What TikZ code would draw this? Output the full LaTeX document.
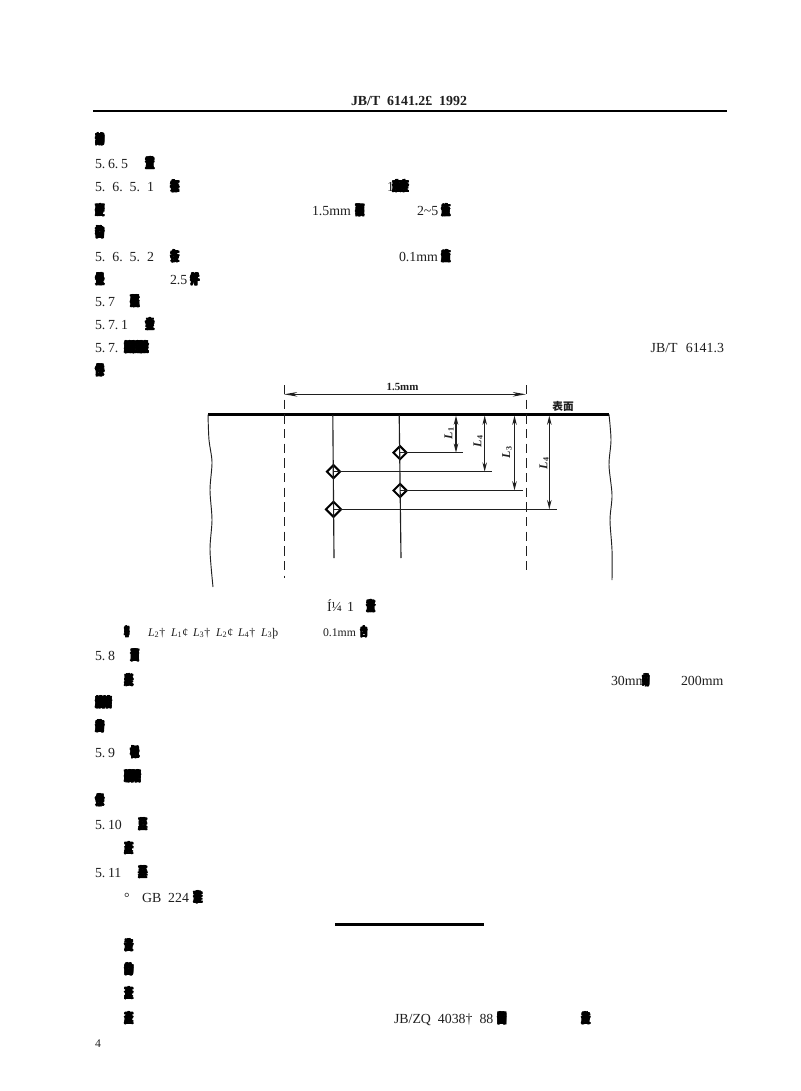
\documentclass[tikz,border=0pt]{standalone}
\usepackage{fontspec}
\usepackage{graphicx}
\setmainfont{Liberation Serif}
\newfontfamily\cjk{Noto Sans CJK SC}
\usetikzlibrary{shapes.geometric,arrows.meta}
\definecolor{ink}{gray}{0.12}
\newcommand{\ovr}[3]{{\cjk\bfseries\fontsize{8}{8}\selectfont\scalebox{.9}[1.32]{\rlap{#1}\rlap{\kern.5pt #2}\rlap{\kern-.4pt #3}\rlap{\kern.3pt #1}\rlap{\kern-.3pt #2}#3}}}
\newcommand{\dovr}[3]{\ovr{#1}{#2}{#3}\kern-1.5pt\ovr{#3}{#1}{#2}}
\newcommand{\tovr}[3]{\ovr{#1}{#2}{#3}\kern-1.5pt\ovr{#3}{#1}{#2}\kern-1.5pt\ovr{#2}{#3}{#1}}
\newcommand{\LL}[1]{\textit{L}\textsubscript{#1}}
\tikzset{
  txt/.style={anchor=base west,inner sep=0pt,outer sep=0pt,yshift=-.75pt,text=ink,font=\fontsize{10.4}{12}\selectfont},
  rtxt/.style={txt,anchor=base east},
  blob/.style={anchor=base west,inner sep=0pt,outer sep=0pt,yshift=-.75pt,text=black},
  small/.style={txt,font=\fontsize{8.8}{10}\selectfont},
  rule/.style={line width=1.6pt,black},
  thin/.style={line width=.85pt,ink},
  dashline/.style={line width=.8pt,ink,dash pattern=on 7pt off 4pt},
  dim/.style={line width=.85pt,ink,{Stealth[length=7pt,width=3.4pt]}-{Stealth[length=7pt,width=3.4pt]}},
  mark diamond/.style={diamond,draw=black,line width=1.5pt,minimum width=10.5pt,minimum height=10.5pt,inner sep=0pt},
  dimlab/.style={rotate=90,inner sep=0pt,text=ink,font=\fontsize{9}{10}\bfseries\selectfont},
}
\begin{document}
\begin{tikzpicture}[x=0.75pt,y=-0.75pt]
\useasboundingbox (0,0) rectangle (800,1091);
\fill[white] (0,0) rectangle (800,1091);
% header
\node[txt,anchor=base,font=\fontsize{10.4}{12}\bfseries\selectfont] (hdr) at (409,105) {JB/T\ \ 6141.2£\ \ 1992};
\coordinate (hl) at (93,110.7); \coordinate (hr) at (727,110.7);
\draw[rule] (hl) -- (hr);
% numbered and plain text
\node[txt] (a1) at (95,168) {5.\kern2pt 6.\kern2pt 5};
\node[txt] (a2) at (95,191) {5.\ \ 6.\ \ 5.\ \ 1};
\node[txt] (a3) at (387,191) {1};
\node[txt] (a4) at (312,214) {1.5mm};
\node[txt] (a5) at (417,214) {2\textasciitilde 5};
\node[txt] (a6) at (95,260) {5.\ \ 6.\ \ 5.\ \ 2};
\node[txt] (a7) at (399,260) {0.1mm};
\node[txt] (a8) at (170,283) {2.5};
\node[txt] (a9) at (95,305) {5.\kern2pt 7};
\node[txt] (a10) at (95,328) {5.\kern2pt 7.\kern2pt 1};
\node[txt] (a11) at (95,351) {5.\kern2pt 7.};
\node[rtxt] (a12) at (724,351) {JB/T\ \ \kern1pt 6141.3};
\node[txt] (a13) at (327,610) {Í¼};
\node[txt] (a14) at (347,610) {1};
\foreach \n/\x/\s/\m in {l1/148/2/†,l2/171/1/¢,l3/193/3/†,l4/216/2/¢,l5/238/4/†}
  \node[small] (\n) at (\x,635) {\LL{\s}\m};
\node[small] (l6) at (261,635) {\LL{3}þ};
\node[small] (l7) at (323,635) {0.1mm};
\node[txt] (a15) at (95,659) {5.\kern2pt 8};
\node[txt] (a16) at (611,684) {30mm};
\node[txt] (a17) at (681,684) {200mm};
\node[txt] (a18) at (95,756) {5.\kern2pt 9};
\node[txt] (a19) at (95,828) {5.\kern2pt 10};
\node[txt] (a20) at (95,876) {5.\kern2pt 11};
\node[txt] (a21) at (124,901) {°};
\node[txt] (a22) at (142,901) {GB\ \ 224};
\node[txt] (a23) at (394,1022) {JB/ZQ\ \ 4038†\ \ 88};
\node[small] (pg) at (95,1046) {4};
% overprinted glyph clusters
\foreach \i/\x/\y/\t in {
 1/95/144/{\ovr{的}{动}{部}},
 2/145/168/{\ovr{童}{查}{重}},
 3/170/191/{\ovr{在}{每}{条}},
 4/392/191/{\dovr{条}{应}{查}},
 5/95/214/{\ovr{查}{硬}{度}},
 6/355/214/{\ovr{取}{面}{平}},
 7/441/214/{\ovr{查}{点}{值}},
 8/95/237/{\ovr{的}{备}{检}},
 9/170/260/{\ovr{在}{条}{各}},
 10/441/260/{\ovr{查}{值}{度}},
 11/95/283/{\ovr{条}{处}{保}},
 12/190/283/{\ovr{平}{并}{件}},
 13/130/305/{\ovr{层}{磁}{蓝}},
 14/145/328/{\ovr{表}{金}{全}},
 15/124/351/{\tovr{深}{脱}{检}},
 16/95/374/{\ovr{条}{件}{保}},
 17/366/610/{\ovr{查}{备}{意}},
 18/124/635/{\scalebox{.6}[.9]{\ovr{各}{甲}{车}}},
 19/360/635/{\scalebox{.8}[.9]{\ovr{内}{合}{自}}},
 20/130/659/{\ovr{面}{自}{量}},
 21/124/684/{\ovr{长}{表}{度}},
 22/642/684/{\scalebox{.8}[1]{\ovr{的}{中}{或}}},
 23/95/706/{\dovr{精}{修}{磨}},
 24/95/730/{\ovr{的}{备}{度}},
 25/130/756/{\ovr{长}{包}{标}},
 26/124/780/{\dovr{精}{硬}{磨}},
 27/95/804/{\ovr{条}{余}{保}},
 28/138/828/{\ovr{产}{真}{蓝}},
 29/124/852/{\ovr{查}{产}{真}},
 30/138/876/{\ovr{产}{基}{蓝}},
 31/193/901/{\ovr{查}{准}{条}},
 32/124/949/{\ovr{产}{备}{注}},
 33/124/973/{\ovr{动}{的}{备}},
 34/124/997/{\ovr{产}{查}{真}},
 35/124/1022/{\ovr{真}{查}{产}},
 36/497/1022/{\ovr{的}{图}{备}},
 37/581/1022/{\ovr{注}{备}{产}}
}{\node[blob] (b\i) at (\x,\y) {\t};}
% end rule
\coordinate (el) at (335,924.5); \coordinate (er) at (484,924.5);
\draw[rule] (el) -- (er);
% figure
\coordinate (sl) at (208,414.5); \coordinate (sr) at (609,414.5);
\draw[rule] (sl) -- (sr);
\draw[line width=.7pt,ink] plot[smooth] coordinates {(sl) (209,440) (212,462) (210,490) (212,520) (210,550) (213,587)};
\draw[line width=.7pt,ink] plot[smooth] coordinates {(sr) (611,440) (609,465) (612,495) (610,520) (612,550) (612,580)};
\coordinate (dat) at (284.4,385); \coordinate (dab) at (284.4,578);
\coordinate (dbt) at (526.4,385); \coordinate (dbb) at (526.4,575);
\draw[dashline] (dat) -- (dab);
\draw[dashline] (dbt) -- (dbb);
\coordinate (wl) at (284,394.3); \coordinate (wr) at (526,394.3);
\draw[line width=1pt,ink,{Stealth[length=10pt,width=3.4pt]}-{Stealth[length=10pt,width=3.4pt]}] (wl) -- (wr);
\node[inner sep=0pt,text=ink,font=\fontsize{8.2}{9}\bfseries\selectfont] (wid) at (402.5,387) {1.5mm};
\node[inner sep=0pt,text=ink,font=\cjk\fontsize{8}{9}\bfseries\selectfont] (surf) at (563,406) {表面};
% hardness marks
\node[mark diamond] (d1) at (400,452.7) {};
\node[mark diamond] (d2) at (333.5,471.7) {};
\node[mark diamond] (d3) at (400,490.5) {};
\node[mark diamond,minimum width=12pt,minimum height=12pt] (d4) at (333.5,509.3) {};
\coordinate (v1t) at (332.8,415); \coordinate (v1b) at (334,558);
\coordinate (v2t) at (399.2,415); \coordinate (v2b) at (401,558);
\draw[thin] (v1t) -- (v1b);
\draw[thin] (v2t) -- (v2b);
\coordinate (e1) at (462.7,452.7);
\coordinate (e2) at (491.7,471.7);
\coordinate (e3) at (522.7,490.5);
\coordinate (e4) at (556.7,509.3);
\draw[thin] (d1.center) -- (e1);
\draw[thin] (d2.center) -- (e2);
\draw[thin] (d3.center) -- (e3);
\draw[thin] (d4.center) -- (e4);
\coordinate (t1) at (456,415.5); \coordinate (f1) at (456,452.7);
\coordinate (t2) at (484.7,415.5); \coordinate (f2) at (484.7,471.7);
\coordinate (t3) at (514.5,415.5); \coordinate (f3) at (514.5,490.5);
\coordinate (t4) at (549.3,415.5); \coordinate (f4) at (549.3,509.3);
\draw[dim] (t1) -- (f1);
\draw[dim] (t2) -- (f2);
\draw[dim] (t3) -- (f3);
\draw[dim] (t4) -- (f4);
\node[dimlab] (q1) at (449,433) {\LL{1}};
\node[dimlab] (q2) at (478,441) {\LL{4}};
\node[dimlab] (q3) at (507,452) {\LL{3}};
\node[dimlab] (q4) at (544,463) {\LL{4}};
\end{tikzpicture}
\end{document}
